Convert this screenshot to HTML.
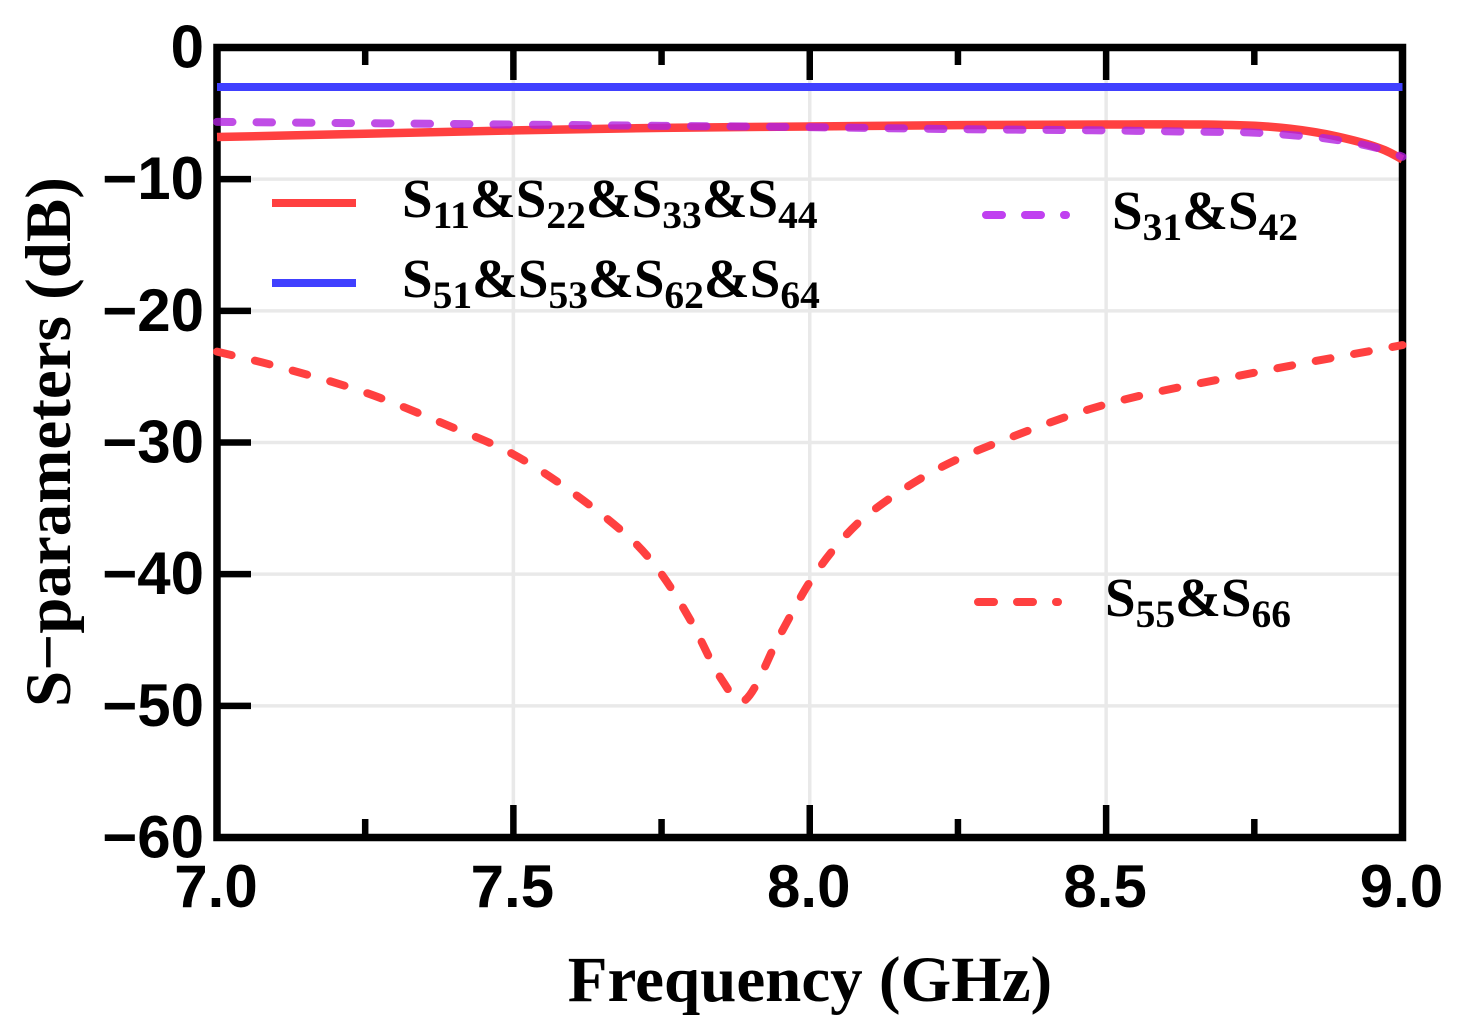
<!DOCTYPE html>
<html lang="en">
<head>
<meta charset="utf-8">
<title>S-parameters vs Frequency</title>
<style>
html,body{margin:0;padding:0;background:#fff;width:1458px;height:1035px;overflow:hidden}
svg{display:block}
.tick{font:bold 60px "Liberation Sans",sans-serif;fill:#000}
.title{font:bold 65px "Liberation Serif",serif;fill:#000}
.leg{font:bold 55px "Liberation Serif",serif;fill:#000}
.sub{font-size:39.5px}
</style>
</head>
<body>
<svg id="chart" xmlns="http://www.w3.org/2000/svg" width="1458" height="1035" viewBox="0 0 1458 1035">
  <g id="grid"></g>
  <g id="ticks"></g>
  <rect x="217" y="47.5" width="1185.5" height="790" fill="none" stroke="#000" stroke-width="7.5"/>
  <g id="labels"></g>
  <g id="series"></g>

  <text class="title" x="810" y="1001" text-anchor="middle">Frequency (GHz)</text>
  <text class="title" transform="translate(70,442) rotate(-90)" text-anchor="middle">S−parameters (dB)</text>

  <g>
    <line x1="272" x2="356" y1="203" y2="203" stroke="#ff4040" stroke-width="8"/>
    <text class="leg" x="402" y="217">S<tspan class="sub" dy="11">11</tspan><tspan dy="-11">&amp;S</tspan><tspan class="sub" dy="11">22</tspan><tspan dy="-11">&amp;S</tspan><tspan class="sub" dy="11">33</tspan><tspan dy="-11">&amp;S</tspan><tspan class="sub" dy="11">44</tspan></text>
    <line x1="272" x2="356" y1="283" y2="283" stroke="#4040ff" stroke-width="8"/>
    <text class="leg" x="402" y="297">S<tspan class="sub" dy="11">51</tspan><tspan dy="-11">&amp;S</tspan><tspan class="sub" dy="11">53</tspan><tspan dy="-11">&amp;S</tspan><tspan class="sub" dy="11">62</tspan><tspan dy="-11">&amp;S</tspan><tspan class="sub" dy="11">64</tspan></text>
    <line x1="986" x2="1066" y1="215" y2="215" stroke="#c040f0" stroke-width="8" stroke-linecap="round" stroke-dasharray="16 23"/>
    <text class="leg" x="1112" y="229">S<tspan class="sub" dy="11">31</tspan><tspan dy="-11">&amp;S</tspan><tspan class="sub" dy="11">42</tspan></text>
    <line x1="978" x2="1058" y1="602" y2="602" stroke="#ff4040" stroke-width="8" stroke-linecap="round" stroke-dasharray="16 23"/>
    <text class="leg" x="1105" y="616">S<tspan class="sub" dy="11">55</tspan><tspan dy="-11">&amp;S</tspan><tspan class="sub" dy="11">66</tspan></text>
  </g>
</svg>
<script>
const xMajorTicks = [7.0, 7.5, 8.0, 8.5, 9.0];
const xMinorTicks = [7.25, 7.75, 8.25, 8.75];
const xTickLabels = ["7.0", "7.5", "8.0", "8.5", "9.0"];
const yTicks = [0, -10, -20, -30, -40, -50, -60];
const yTickLabels = ["0", "−10", "−20", "−30", "−40", "−50", "−60"];

const freqS11 = [7.0, 7.25, 7.5, 7.75, 8.0, 8.25, 8.5, 8.66, 8.77, 8.855, 8.93, 8.97, 9.0];
const valS11 = [-6.8, -6.55, -6.3, -6.1, -6.0, -5.9, -5.85, -5.85, -6.0, -6.45, -7.2, -7.8, -8.5];

const freqS51 = [7.0, 7.5, 8.0, 8.5, 9.0];
const valS51 = [-3.0, -3.0, -3.0, -3.0, -3.0];

const freqS31 = [7.0, 7.25, 7.5, 7.75, 8.0, 8.25, 8.5, 8.66, 8.74, 8.81, 8.87, 8.93, 8.97, 9.0];
const valS31 = [-5.65, -5.75, -5.85, -5.95, -6.05, -6.2, -6.3, -6.4, -6.45, -6.65, -6.9, -7.35, -7.8, -8.3];

const freqS55 = [7.0, 7.1, 7.25, 7.4, 7.5, 7.6, 7.7, 7.75, 7.8, 7.85, 7.89, 7.95, 8.0, 8.05, 8.1, 8.2, 8.3, 8.5, 8.75, 9.0];
const valS55 = [-23.1, -24.2, -26.2, -28.9, -30.9, -33.8, -37.4, -40.0, -43.6, -47.9, -49.6, -44.6, -40.6, -37.6, -35.4, -32.4, -30.3, -27.1, -24.7, -22.6];

const svgNS = "http://www.w3.org/2000/svg";
const xAt = v => 217 + (v - 7) * 592.75;
const yAt = v => 47.5 - v * 13.167;

function mk(parent, tag, attrs) {
  const el = document.createElementNS(svgNS, tag);
  for (const k in attrs) el.setAttribute(k, attrs[k]);
  parent.appendChild(el);
  return el;
}

const gridG = document.getElementById("grid");
const ticksG = document.getElementById("ticks");
const labelsG = document.getElementById("labels");
const seriesG = document.getElementById("series");

xMajorTicks.forEach((v, i) => {
  const x = xAt(v);
  if (i > 0 && i < xMajorTicks.length - 1) {
    const g = mk(gridG, "line", {x1: x, x2: x, y1: 47.5, y2: 837.5, stroke: "#e9e9e9", "stroke-width": 3.5});
    
    
    [[47.5, 80], [837.5, 805]].forEach(p => {
      const t = mk(ticksG, "line", {x1: x, x2: x, y1: p[0], y2: p[1], stroke: "#000", "stroke-width": 6.5});
      
      
    });
  }
  const l = mk(labelsG, "text", {class: "tick", x: x - 1, y: 907, "text-anchor": "middle"});
  
  
  l.textContent = xTickLabels[i];
});

xMinorTicks.forEach(v => {
  const x = xAt(v);
  [[47.5, 65], [837.5, 819]].forEach(p => {
    const t = mk(ticksG, "line", {x1: x, x2: x, y1: p[0], y2: p[1], stroke: "#000", "stroke-width": 6.5});
    
    
  });
});

yTicks.forEach((v, i) => {
  const y = yAt(v);
  if (i > 0 && i < yTicks.length - 1) {
    const g = mk(gridG, "line", {x1: 217, x2: 1402, y1: y, y2: y, stroke: "#e9e9e9", "stroke-width": 3.5});
    
    
    const t = mk(ticksG, "line", {x1: 217, x2: 251, y1: y, y2: y, stroke: "#000", "stroke-width": 6.5});
    
    
  }
  const l = mk(labelsG, "text", {class: "tick", x: 204, y: y + 20, "text-anchor": "end"});
  
  
  l.textContent = yTickLabels[i];
});

function smoothPath(xs, ys) {
  const p = xs.map((x, i) => [xAt(x), yAt(ys[i])]);
  let d = "M" + p[0][0] + " " + p[0][1];
  for (let i = 0; i < p.length - 1; i++) {
    const a = p[Math.max(i - 1, 0)], b = p[i], c = p[i + 1], e = p[Math.min(i + 2, p.length - 1)];
    const dx = (c[0] - b[0]) / 3;
    const sb = (c[1] - a[1]) / ((c[0] - a[0]) || 1);
    const sc = (e[1] - b[1]) / ((e[0] - b[0]) || 1);
    d += " C" + (b[0] + dx) + " " + (b[1] + sb * dx) + " " + (c[0] - dx) + " " + (c[1] - sc * dx) + " " + c[0] + " " + c[1];
  }
  return d;
}

const s11 = mk(seriesG, "path", {d: smoothPath(freqS11, valS11), fill: "none", stroke: "#ff4040", "stroke-width": 8.5});



const s51 = mk(seriesG, "path", {d: smoothPath(freqS51, valS51), fill: "none", stroke: "#4040ff", "stroke-width": 8});



const s31 = mk(seriesG, "path", {d: smoothPath(freqS31, valS31), fill: "none", stroke: "#b020e0", "stroke-opacity": 0.8, "stroke-width": 8, "stroke-linecap": "round", "stroke-dasharray": "15.5 24"});



const s55 = mk(seriesG, "path", {d: smoothPath(freqS55, valS55), fill: "none", stroke: "#ff4040", "stroke-width": 8, "stroke-linecap": "round", "stroke-dasharray": "15 24"});


</script>
</body>
</html>
